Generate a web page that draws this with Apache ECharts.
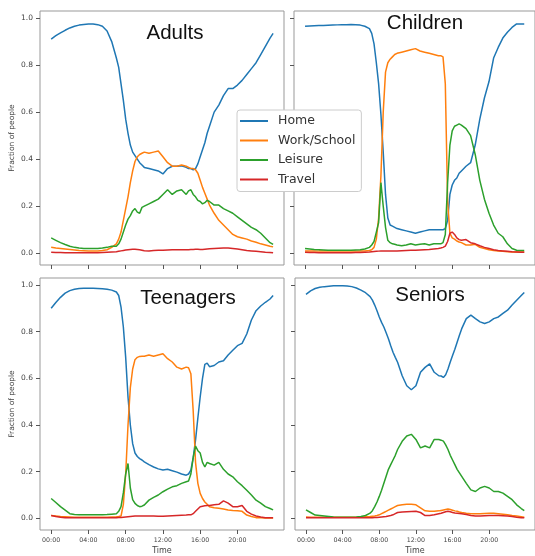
<!DOCTYPE html>
<html><head><meta charset="utf-8">
<script src="https://cdn.jsdelivr.net/npm/echarts@6/dist/echarts.min.js"></script>
<style>html,body{margin:0;padding:0;background:#fff}#c{width:535px;height:556px}</style>
</head><body><div id="c"></div>
<script>
// Time of day in hours (shared by all series)
const times = [0,0.5,1,1.5,2,2.5,3,3.5,4,4.5,5,5.5,6,6.5,
  7,7.25,7.5,7.75,8,8.25,8.5,8.75,9,9.25,9.5,9.75,
  10,10.5,11,11.5,12,12.5,13,13.5,14,
  14.5,14.75,15,15.25,15.5,15.75,16,16.25,16.5,16.75,
  17,17.5,18,18.5,19,19.5,20,20.5,21,21.5,22,22.5,23,23.5,23.83];

const categories = ['Home','Work/School','Leisure','Travel'];
const panels = ['Adults','Children','Teenagers','Seniors'];
const xTicks = [0,4,8,12,16,20];
const yTicks = [0,0.2,0.4,0.6,0.8,1.0];

// Adults
const adultsHome = [0.91,0.925,0.937,0.948,0.958,0.965,0.97,0.973,0.975,0.975,0.972,0.965,0.945,0.90,
  0.83,0.79,0.72,0.65,0.57,0.51,0.46,0.43,0.415,0.40,0.385,0.375,
  0.365,0.36,0.355,0.35,0.337,0.36,0.37,0.37,0.372,
  0.365,0.36,0.36,0.355,0.36,0.38,0.41,0.44,0.47,0.51,
  0.54,0.60,0.63,0.67,0.70,0.70,0.715,0.735,0.76,0.785,0.81,0.845,0.88,0.915,0.935];
const adultsWork = [0.025,0.022,0.02,0.018,0.016,0.014,0.012,0.011,0.01,0.01,0.01,0.012,0.015,0.025,
  0.04,0.06,0.09,0.14,0.19,0.24,0.30,0.35,0.39,0.41,0.42,0.425,
  0.43,0.425,0.43,0.435,0.41,0.385,0.37,0.37,0.375,
  0.37,0.365,0.36,0.36,0.355,0.34,0.31,0.28,0.255,0.23,
  0.205,0.17,0.14,0.12,0.10,0.08,0.07,0.065,0.06,0.052,0.047,0.04,0.035,0.03,0.027];
const adultsLeisure = [0.065,0.055,0.045,0.037,0.03,0.025,0.022,0.02,0.02,0.02,0.02,0.022,0.025,0.03,
  0.03,0.04,0.06,0.09,0.12,0.145,0.16,0.18,0.19,0.175,0.17,0.195,
  0.20,0.21,0.22,0.23,0.25,0.27,0.25,0.265,0.27,
  0.25,0.265,0.27,0.25,0.24,0.225,0.22,0.21,0.215,0.225,
  0.22,0.205,0.205,0.19,0.18,0.17,0.155,0.14,0.125,0.11,0.10,0.085,0.065,0.045,0.038];
const adultsTravel = [0.004,0.003,0.003,0.002,0.002,0.002,0.002,0.002,0.002,0.002,0.002,0.003,0.004,0.005,
  0.006,0.008,0.01,0.012,0.014,0.015,0.016,0.017,0.017,0.016,0.015,0.013,
  0.011,0.01,0.012,0.013,0.013,0.014,0.015,0.015,0.015,
  0.015,0.015,0.016,0.016,0.017,0.017,0.016,0.016,0.017,0.018,
  0.019,0.02,0.021,0.022,0.022,0.02,0.018,0.015,0.012,0.01,0.008,0.006,0.004,0.003,0.002];

// Children
const childrenHome = [0.965,0.966,0.967,0.968,0.968,0.969,0.97,0.971,0.972,0.972,0.973,0.972,0.97,0.965,
  0.955,0.935,0.89,0.81,0.72,0.59,0.43,0.25,0.15,0.12,0.115,0.11,
  0.105,0.10,0.095,0.09,0.085,0.09,0.095,0.10,0.10,
  0.10,0.10,0.10,0.105,0.14,0.25,0.29,0.31,0.32,0.34,
  0.35,0.37,0.385,0.46,0.57,0.66,0.73,0.83,0.875,0.915,0.94,0.96,0.975,0.975,0.975];
const childrenWork = [0.01,0.01,0.01,0.009,0.009,0.009,0.009,0.009,0.009,0.009,0.009,0.009,0.01,0.01,
  0.012,0.015,0.025,0.06,0.15,0.33,0.60,0.77,0.81,0.825,0.835,0.845,
  0.85,0.855,0.86,0.865,0.87,0.86,0.855,0.85,0.845,
  0.84,0.84,0.835,0.72,0.22,0.085,0.065,0.06,0.052,0.048,
  0.045,0.035,0.035,0.038,0.025,0.02,0.015,0.012,0.01,0.008,0.006,0.005,0.005,0.005,0.005];
const childrenLeisure = [0.02,0.018,0.016,0.015,0.014,0.013,0.013,0.013,0.013,0.013,0.013,0.014,0.015,0.018,
  0.025,0.035,0.05,0.09,0.13,0.30,0.20,0.11,0.055,0.045,0.04,0.038,
  0.035,0.032,0.035,0.04,0.035,0.038,0.04,0.035,0.04,
  0.04,0.04,0.045,0.08,0.30,0.46,0.52,0.54,0.545,0.55,
  0.545,0.53,0.50,0.42,0.31,0.23,0.17,0.12,0.085,0.07,0.04,0.02,0.013,0.012,0.012];
const childrenTravel = [0.004,0.003,0.003,0.002,0.002,0.002,0.002,0.002,0.002,0.002,0.002,0.003,0.003,0.004,
  0.005,0.006,0.007,0.008,0.009,0.01,0.01,0.01,0.01,0.01,0.01,0.01,
  0.01,0.011,0.012,0.013,0.013,0.014,0.015,0.016,0.018,
  0.02,0.022,0.025,0.03,0.05,0.085,0.09,0.08,0.065,0.058,
  0.055,0.058,0.045,0.04,0.032,0.025,0.02,0.015,0.012,0.01,0.008,0.006,0.005,0.004,0.004];

// Teenagers
const teensHome = [0.90,0.925,0.947,0.965,0.976,0.982,0.985,0.986,0.986,0.986,0.985,0.984,0.982,0.978,
  0.97,0.955,0.905,0.82,0.69,0.52,0.40,0.32,0.28,0.265,0.256,0.25,
  0.242,0.23,0.22,0.212,0.207,0.21,0.204,0.198,0.19,
  0.185,0.19,0.207,0.26,0.335,0.43,0.52,0.60,0.66,0.665,
  0.65,0.655,0.67,0.675,0.70,0.72,0.74,0.75,0.79,0.85,0.89,0.91,0.926,0.94,0.955];
const teensWork = [0.012,0.01,0.008,0.007,0.006,0.005,0.005,0.005,0.005,0.005,0.005,0.005,0.005,0.006,
  0.007,0.008,0.01,0.06,0.19,0.40,0.56,0.64,0.68,0.69,0.694,0.695,
  0.695,0.70,0.695,0.70,0.705,0.684,0.67,0.648,0.64,
  0.648,0.645,0.62,0.46,0.24,0.15,0.107,0.085,0.07,0.06,
  0.05,0.045,0.043,0.04,0.036,0.034,0.033,0.03,0.014,0.008,0.003,0.002,0.001,0.001,0.001];
const teensLeisure = [0.085,0.068,0.05,0.035,0.02,0.016,0.015,0.015,0.015,0.015,0.015,0.015,0.016,0.018,
  0.02,0.03,0.05,0.11,0.19,0.235,0.13,0.08,0.064,0.055,0.05,0.052,
  0.057,0.078,0.09,0.10,0.114,0.125,0.135,0.14,0.15,
  0.157,0.16,0.19,0.26,0.31,0.29,0.28,0.24,0.22,0.24,
  0.235,0.228,0.24,0.21,0.19,0.178,0.157,0.14,0.12,0.10,0.078,0.065,0.05,0.042,0.036];
const teensTravel = [0.012,0.008,0.005,0.003,0.002,0.002,0.002,0.002,0.002,0.002,0.002,0.002,0.002,0.003,
  0.003,0.004,0.004,0.005,0.006,0.007,0.008,0.009,0.01,0.01,0.01,0.01,
  0.01,0.01,0.01,0.009,0.009,0.01,0.011,0.012,0.013,
  0.014,0.015,0.015,0.02,0.03,0.04,0.05,0.052,0.054,0.055,
  0.055,0.058,0.06,0.075,0.065,0.05,0.05,0.055,0.03,0.018,0.01,0.006,0.003,0.002,0.002];

// Seniors
const seniorsHome = [0.96,0.975,0.985,0.99,0.993,0.995,0.997,0.997,0.997,0.996,0.993,0.987,0.978,0.967,
  0.95,0.935,0.914,0.89,0.863,0.84,0.82,0.795,0.77,0.74,0.712,0.69,
  0.669,0.611,0.568,0.551,0.568,0.626,0.647,0.662,0.626,
  0.611,0.61,0.604,0.615,0.64,0.67,0.698,0.725,0.755,0.785,
  0.813,0.856,0.871,0.856,0.842,0.835,0.842,0.856,0.863,0.878,0.892,0.914,0.935,0.955,0.968];
const seniorsWork = [0.006,0.005,0.005,0.005,0.005,0.005,0.005,0.005,0.005,0.005,0.005,0.005,0.006,0.007,
  0.008,0.009,0.01,0.012,0.015,0.02,0.025,0.03,0.035,0.04,0.045,0.05,
  0.055,0.058,0.06,0.06,0.058,0.045,0.032,0.03,0.03,
  0.032,0.034,0.036,0.038,0.04,0.038,0.035,0.032,0.03,0.027,
  0.025,0.022,0.02,0.02,0.02,0.021,0.022,0.022,0.02,0.018,0.015,0.012,0.01,0.007,0.005];
const seniorsLeisure = [0.036,0.025,0.014,0.012,0.01,0.008,0.006,0.005,0.005,0.005,0.005,0.006,0.008,0.012,
  0.022,0.033,0.05,0.07,0.094,0.12,0.15,0.18,0.21,0.23,0.25,0.27,
  0.295,0.33,0.353,0.36,0.338,0.302,0.31,0.302,0.338,
  0.338,0.335,0.331,0.315,0.295,0.27,0.25,0.23,0.21,0.195,
  0.18,0.15,0.122,0.115,0.13,0.137,0.13,0.115,0.115,0.108,0.094,0.08,0.058,0.042,0.033];
const seniorsTravel = [0.002,0.002,0.002,0.002,0.002,0.002,0.002,0.002,0.002,0.002,0.002,0.002,0.002,0.002,
  0.003,0.003,0.004,0.004,0.005,0.006,0.007,0.008,0.01,0.012,0.015,0.02,
  0.025,0.027,0.028,0.029,0.03,0.025,0.012,0.012,0.015,
  0.02,0.022,0.025,0.028,0.03,0.028,0.025,0.023,0.022,0.021,
  0.02,0.016,0.012,0.01,0.01,0.011,0.012,0.012,0.012,0.011,0.01,0.008,0.005,0.003,0.002];

const panelData = [
  [adultsHome, adultsWork, adultsLeisure, adultsTravel],
  [childrenHome, childrenWork, childrenLeisure, childrenTravel],
  [teensHome, teensWork, teensLeisure, teensTravel],
  [seniorsHome, seniorsWork, seniorsLeisure, seniorsTravel]
];

const colors = ['#1f77b4','#ff7f0e','#2ca02c','#d62728'];
const grids = [
  {left:40, top:11, width:244, height:254},
  {left:294, top:11, width:245, height:254},
  {left:40, top:278, width:244, height:255},
  {left:295, top:278, width:245, height:255}
];
const titlePos = [[175,33],[425,23],[188,298],[430,295]];

const tickFont = 'DejaVu Sans';
const xAxes = [], yAxes = [], series = [];
grids.forEach((g, i) => {
  const bottomRow = i >= 2, leftCol = i % 2 === 0;
  xAxes.push({
    type:'value', gridIndex:i, min:-1.2, max:25.0, position:'bottom',
    splitLine:{show:false}, axisLine:{show:false, onZero:false},
    axisTick:{show:true, inside:false, customValues:xTicks, length:4, lineStyle:{color:'#555', width:1}},
    axisLabel:{show:bottomRow, customValues:xTicks, margin:7, fontSize:6.3, color:'#444', fontFamily:tickFont,
      formatter: v => (v < 10 ? '0' : '') + v + ':00'},
    name: bottomRow ? 'Time' : '', nameLocation:'middle', nameGap:17,
    nameTextStyle:{fontSize:8, color:'#444', fontFamily:tickFont}
  });
  yAxes.push({
    type:'value', gridIndex:i, min:-0.05, max:1.03, position:'left',
    splitLine:{show:false}, axisLine:{show:false, onZero:false},
    axisTick:{show:true, inside:false, customValues:yTicks, length:4, lineStyle:{color:'#555', width:1}},
    axisLabel:{show:leftCol, customValues:yTicks, margin:7, fontSize:7.5, color:'#444', fontFamily:tickFont,
      formatter: v => v.toFixed(1)},
    name: leftCol ? 'Fraction of people' : '', nameLocation:'middle', nameGap:24,
    nameTextStyle:{fontSize:7.5, color:'#444', fontFamily:tickFont}
  });
  panelData[i].forEach((arr, k) => {
    series.push({
      type:'line', name:categories[k], xAxisIndex:i, yAxisIndex:i,
      data: times.map((t, j) => [t, arr[j]]),
      symbol:'none', showSymbol:false,
      lineStyle:{color:colors[k], width:1.5},
      itemStyle:{color:colors[k]},
      z: 2 + k, silent:true
    });
  });
});

const chart = echarts.init(document.getElementById('c'), null, {renderer:'canvas'});
chart.setOption({
  animation:false,
  backgroundColor:'#fff',
  grid: grids.map(g => Object.assign({show:true, borderColor:'#999', borderWidth:1, backgroundColor:'transparent', containLabel:false}, g)),
  xAxis: xAxes,
  yAxis: yAxes,
  series: series,
  legend: {
    data: categories, left:237, top:110, orient:'vertical',
    icon:'rect', itemWidth:28, itemHeight:2, itemGap:5.5,
    padding:[4,6,5,3],
    backgroundColor:'#fff', borderColor:'#ccc', borderWidth:1, borderRadius:3,
    selectedMode:false, z:10,
    textStyle:{fontSize:12.5, color:'#333', fontFamily:tickFont, lineHeight:14, padding:[0,0,0,5]}
  },
  graphic: panels.map((p, i) => ({
    type:'text', x:titlePos[i][0], y:titlePos[i][1], z:20,
    style:{text:p, fill:'#111', font:'20.5px "Liberation Sans", Arial, sans-serif', textAlign:'center', textVerticalAlign:'middle'}
  }))
});
</script></body></html>
